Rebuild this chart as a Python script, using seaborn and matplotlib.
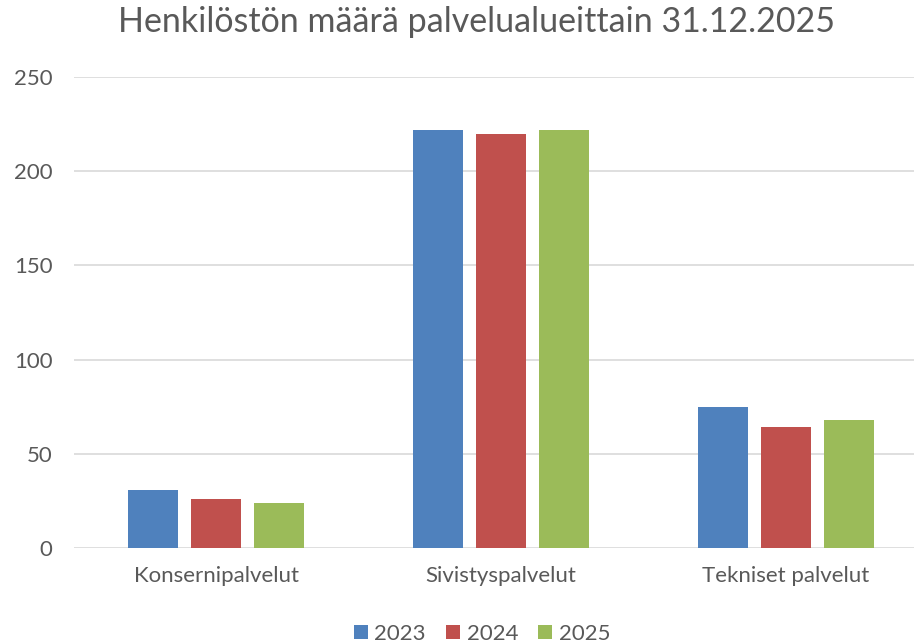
import pandas as pd
import matplotlib.pyplot as plt
import seaborn as sns
from matplotlib.patches import Patch

# data
categories = ['Konsernipalvelut', 'Sivistyspalvelut', 'Tekniset palvelut']
years = ['2023', '2024', '2025']
values_2023 = [31, 222, 75]
values_2024 = [26, 220, 64]
values_2025 = [24, 222, 68]
colors = ['#4F81BD', '#C0504D', '#9BBB59']

df = pd.DataFrame({
    'palvelualue': categories * 3,
    'vuosi': [y for y in years for _ in categories],
    'henkilot': values_2023 + values_2024 + values_2025,
})

sns.set_style('white')
plt.rcParams['font.family'] = ['Lato', 'DejaVu Sans']
text_col = '#595959'

fig = plt.figure(figsize=(9.14, 6.43), dpi=100)
ax = fig.add_axes([73.5 / 914, 95 / 643, 855 / 914, 471 / 643])

sns.barplot(data=df, x='palvelualue', y='henkilot', hue='vuosi',
            palette=colors, width=0.663, gap=0.22, ax=ax,
            legend=False, saturation=1, linewidth=0)

ax.set_xlim(-0.5, 2.5)
ax.set_ylim(0, 250)
ax.set_yticks(range(0, 251, 50))
ax.yaxis.grid(True, color='#D9D9D9', linewidth=1.2)
ax.set_axisbelow(True)
for s in ax.spines.values():
    s.set_visible(False)
ax.set_xlabel('')
ax.set_ylabel('')
ax.tick_params(axis='both', length=0, labelsize=16, colors=text_col)
ax.tick_params(axis='y', pad=15)
ax.tick_params(axis='x', pad=13)

fig.text(477 / 914, 1 - 22 / 643, 'Henkilöstön määrä palvelualueittain 31.12.2025',
         ha='center', va='center', fontsize=24.5, color=text_col)

handles = [Patch(facecolor=c, edgecolor='none') for c in colors]
fig.legend(handles, years, loc='center', bbox_to_anchor=(482 / 914, 9 / 643),
           ncol=3, frameon=False, fontsize=16, labelcolor=text_col,
           handlelength=0.63, handleheight=0.63, handletextpad=0.3,
           columnspacing=0.9, borderpad=0, borderaxespad=0)

fig.savefig('out.png', dpi=100)
